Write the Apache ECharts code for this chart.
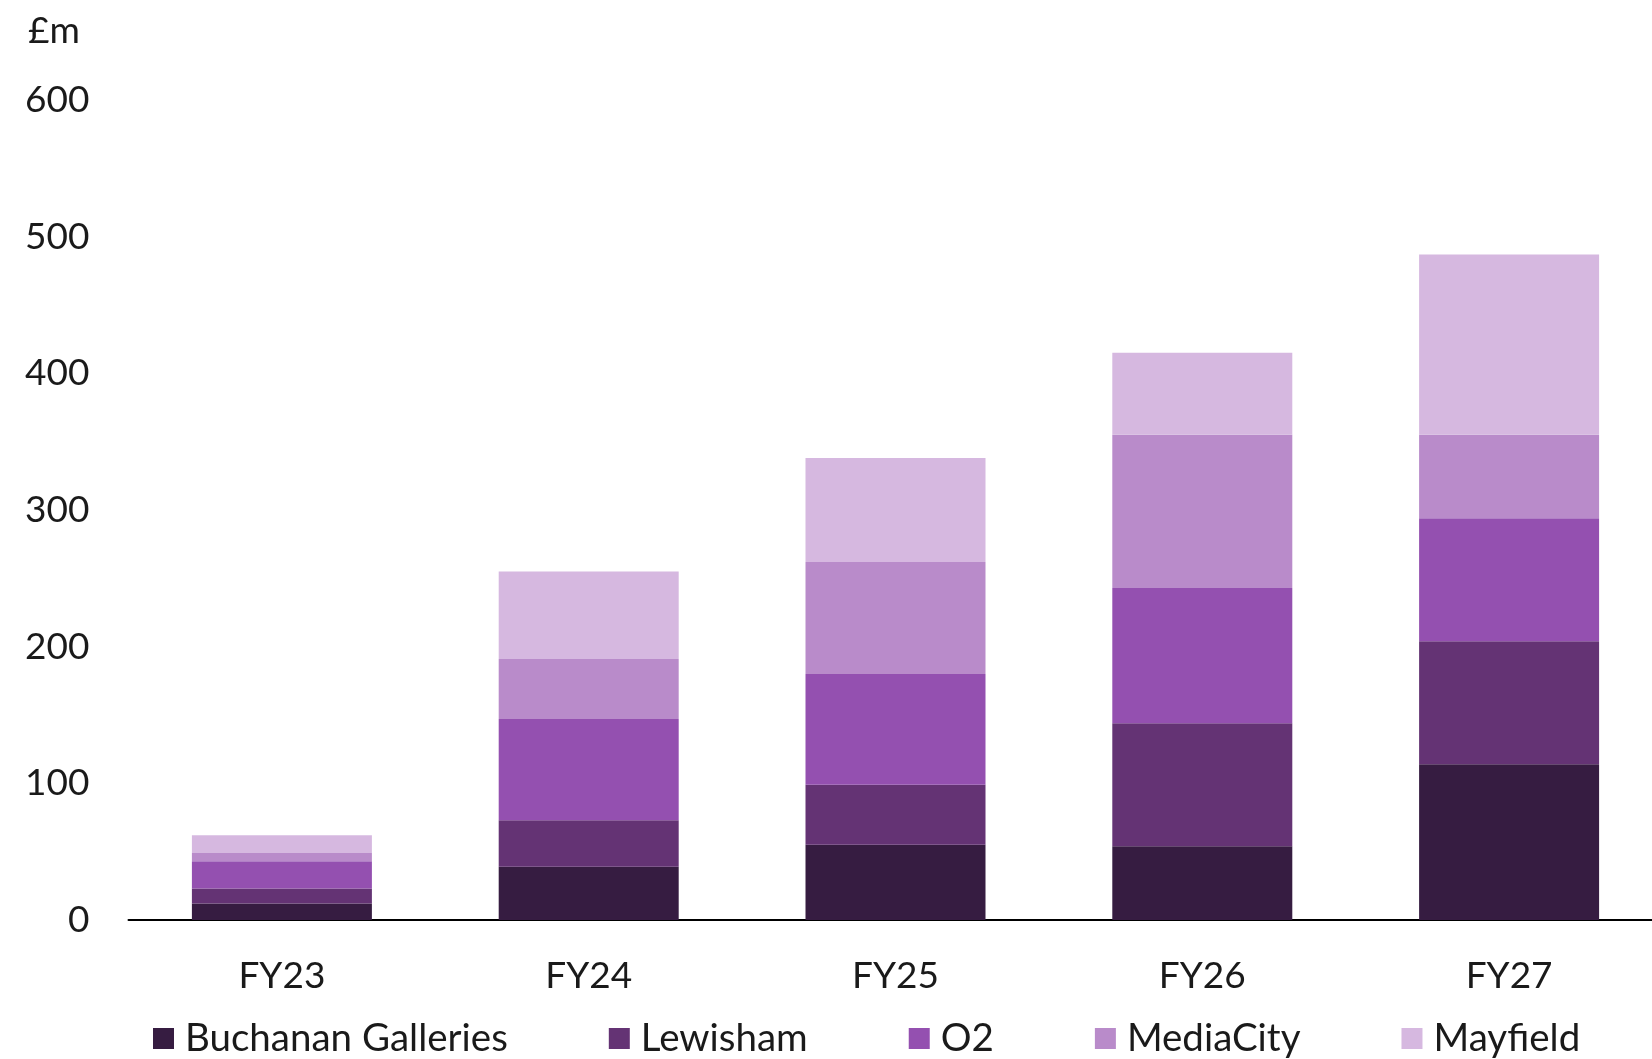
<!DOCTYPE html>
<html>
<head>
<meta charset="utf-8">
<script src="https://cdn.jsdelivr.net/npm/echarts@6/dist/echarts.min.js"></script>
<style>
  html, body { margin: 0; padding: 0; background: #fff; }
  #mychart { width: 1652px; height: 1059px; }
</style>
</head>
<body>
<div id="mychart"></div>
<script>
  // categories and values (£m)
  const categories = ['FY23', 'FY24', 'FY25', 'FY26', 'FY27']
  const seriesNames = ['Buchanan Galleries', 'Lewisham', 'O2', 'MediaCity', 'Mayfield']
  const buchanan = [12, 39, 55, 54, 114]
  const lewisham = [11, 34, 44, 90, 90]
  const o2 = [20, 74, 81, 99, 90]
  const mediaCity = [6, 44, 82, 112, 61]
  const mayfield = [13, 64, 76, 60, 132]
  const yTicks = [0, 100, 200, 300, 400, 500, 600]

  const colors = ['#361c41', '#643374', '#9450b0', '#b98bca', '#d6b8e0']
  const values = [buchanan, lewisham, o2, mediaCity, mayfield]
  const font = 'Lato'
  const textColor = '#1a1a1a'

  let mychart = echarts.init(document.getElementById('mychart'))

  let series = []
  values.forEach((item, index) => {
    series.push({
      name: seriesNames[index],
      type: 'bar',
      stack: 'total',
      barWidth: 180,
      data: item,
      itemStyle: {
        color: colors[index]
      }
    })
  })

  let options = {
    animation: false,
    title: {
      text: '£m',
      left: 23,
      top: 8,
      textStyle: {
        fontFamily: font,
        fontSize: 37,
        fontWeight: 'normal',
        color: textColor
      }
    },
    grid: {
      left: 128.5,
      width: 1534,
      top: 100,
      bottom: 139,
      outerBoundsMode: 'none'
    },
    legend: {
      data: seriesNames,
      left: 153,
      top: 1019,
      padding: 0,
      icon: 'rect',
      itemWidth: 21,
      itemHeight: 21,
      itemGap: 101,
      textStyle: {
        fontFamily: font,
        fontSize: 38.5,
        color: textColor,
        padding: [0, 0, 0, 6]
      }
    },
    xAxis: {
      type: 'category',
      data: categories,
      axisLine: { lineStyle: { color: '#000', width: 2 } },
      axisTick: { show: false },
      axisLabel: {
        margin: 38,
        fontFamily: font,
        fontSize: 37,
        color: textColor
      }
    },
    yAxis: {
      type: 'value',
      min: yTicks[0],
      max: yTicks[yTicks.length - 1],
      interval: 100,
      splitLine: { show: false },
      axisLine: { show: false },
      axisTick: { show: false },
      axisLabel: {
        margin: 39,
        fontFamily: font,
        fontSize: 37,
        color: textColor
      }
    },
    series: series
  }
  mychart.setOption(options)
</script>
</body>
</html>
